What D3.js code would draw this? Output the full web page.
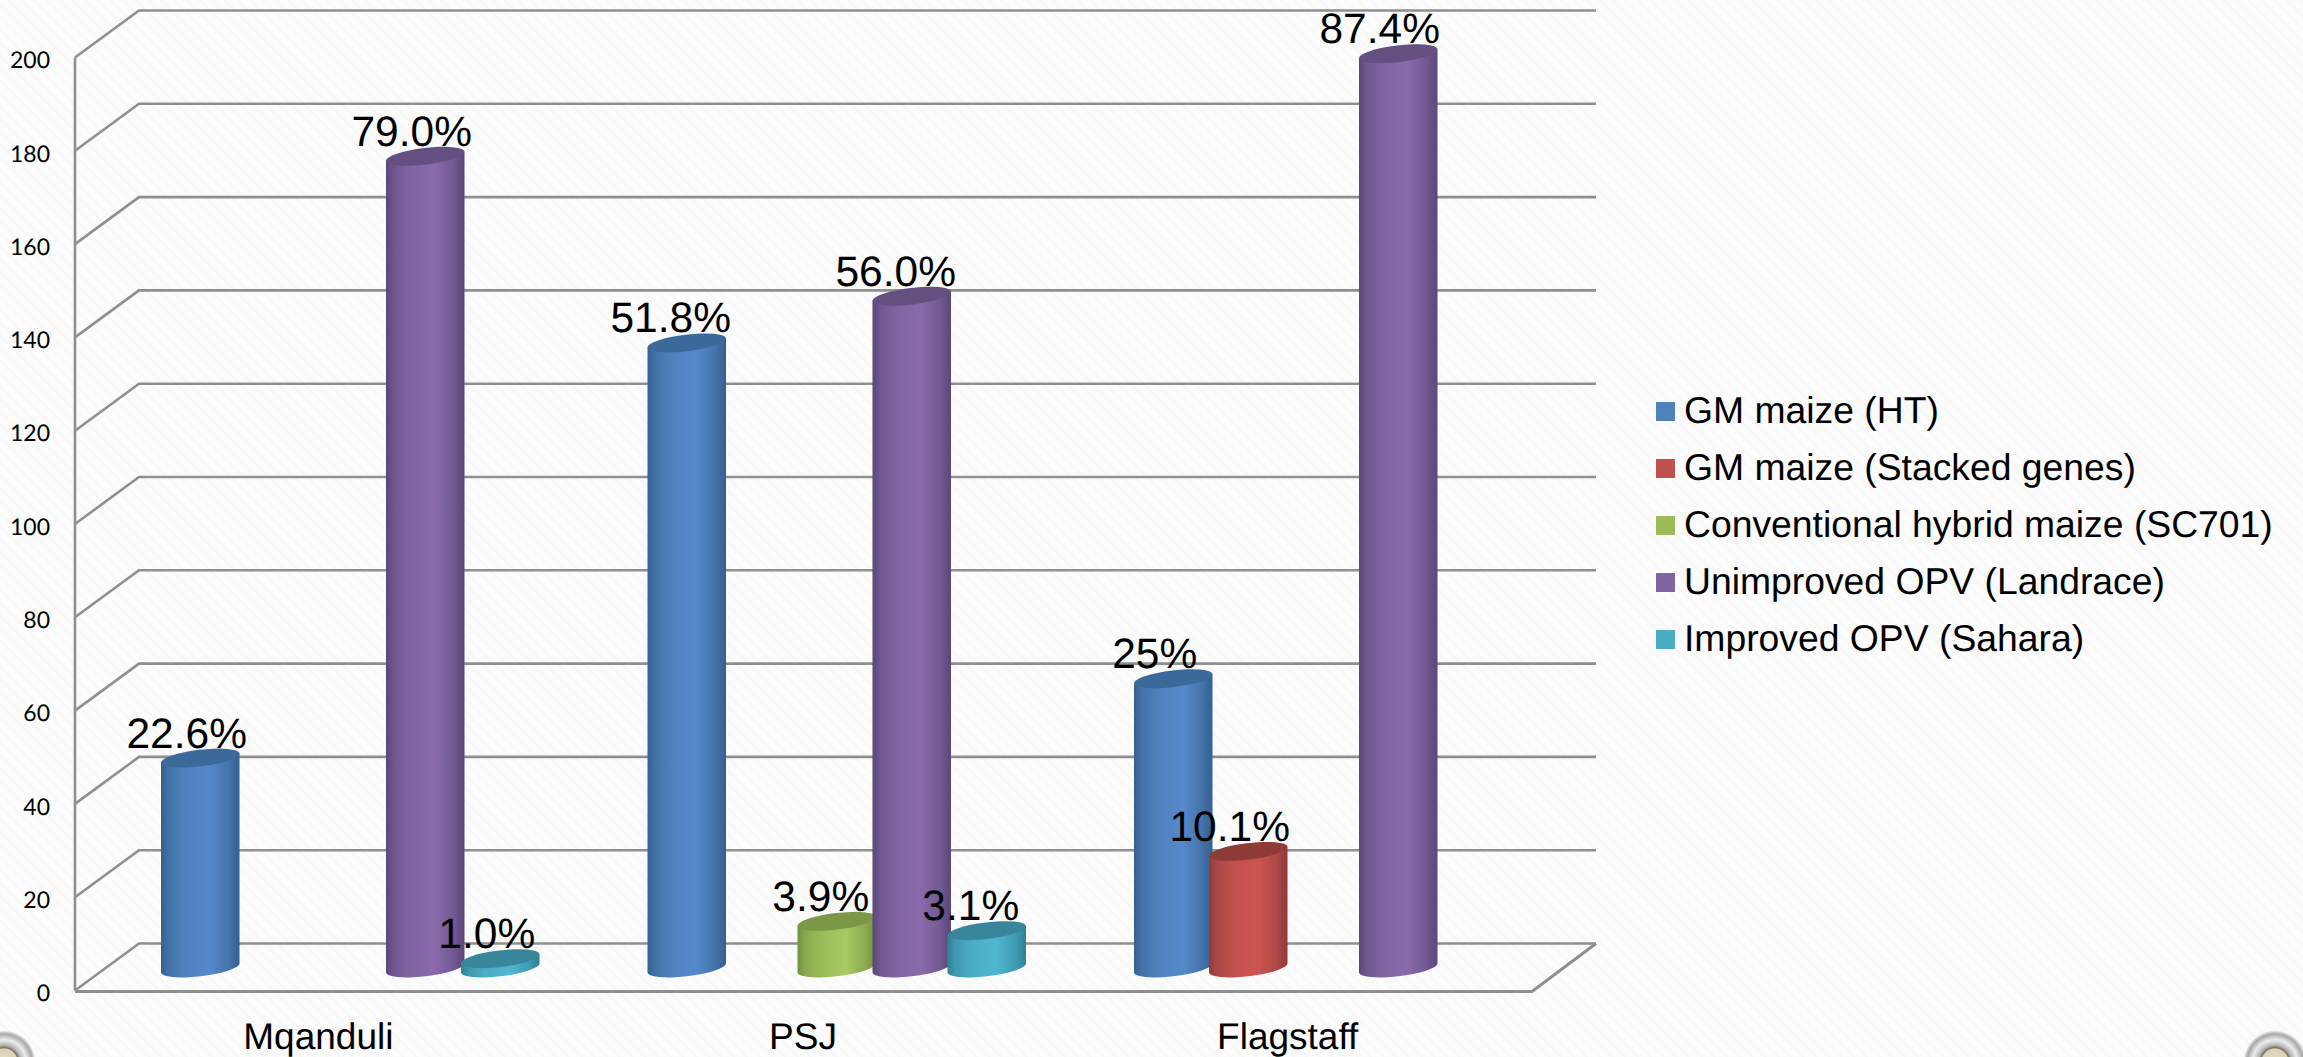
<!DOCTYPE html>
<html>
<head>
<meta charset="utf-8">
<title>Maize varieties by site</title>
<script src="https://cdn.jsdelivr.net/npm/d3@7"></script>
<style>
  html, body { margin: 0; padding: 0; background: #fafafa; overflow: hidden; }
  svg { display: block; text-rendering: geometricPrecision; }
  .lab { font-family: "Liberation Sans", Arial, sans-serif; fill: #000; }
</style>
</head>
<body>
<svg id="chart" width="2303" height="1057"></svg>
<script>
// Sites along the horizontal axis
const categories = ["Mqanduli", "PSJ", "Flagstaff"];
const seriesNames = [
  "GM maize (HT)",
  "GM maize (Stacked genes)",
  "Conventional hybrid maize (SC701)",
  "Unimproved OPV (Landrace)",
  "Improved OPV (Sahara)"
];
// Counts per site, one list per series; null means no bar at that site
const gmHt        = [45, 134, 62];
const gmStacked   = [null, null, 25];
const hybrid      = [null, 10, null];
const landrace    = [174, 144, 196];
const sahara      = [2, 8, null];
// Share labels printed above each bar
const gmHtLabels      = ["22.6%", "51.8%", "25%"];
const gmStackedLabels = [null, null, "10.1%"];
const hybridLabels    = [null, "3.9%", null];
const landraceLabels  = ["79.0%", "56.0%", "87.4%"];
const saharaLabels    = ["1.0%", "3.1%", null];
const yTicks = [0, 20, 40, 60, 80, 100, 120, 140, 160, 180, 200];

const seriesValues = [gmHt, gmStacked, hybrid, landrace, sahara];
const seriesLabels = [gmHtLabels, gmStackedLabels, hybridLabels, landraceLabels, saharaLabels];

// Fill colours for each series: legend swatch, side shading and cap
const swatch = ["#4f81bd", "#c0504d", "#9bbb59", "#8064a2", "#4bacc6"];
const bright = ["#5589cc", "#cd5551", "#a9c962", "#8a6aab", "#4fb6d0"];
const edge   = ["#355f90", "#8f3b38", "#75913f", "#5b4679", "#2f8195"];
const capCol = ["#3b6a9a", "#8e3b38", "#7c9745", "#634f80", "#37869a"];

const svg = d3.select("#chart");
const defs = svg.append("defs");

// Faint woven paper texture behind everything
const paper = defs.append("pattern").attr("id", "paper")
  .attr("width", 9).attr("height", 9)
  .attr("patternUnits", "userSpaceOnUse")
  .attr("patternTransform", "rotate(45)");
paper.append("rect").attr("width", 9).attr("height", 9).attr("fill", "#fbfbfb");
paper.append("line").attr("x1", 0).attr("y1", 3).attr("x2", 9).attr("y2", 3)
  .attr("stroke", "#f7f7f7").attr("stroke-width", 2);
svg.append("rect").attr("width", 2303).attr("height", 1057).attr("fill", "url(#paper)");

// Geometry of the 3D box: front plane plus a constant depth shift to the back wall
const frontLeft = 75, frontRight = 1532;
const depthX = 64, depthY = -47;
const y = d3.scaleLinear().domain([0, 200]).range([990.5, 57.5]);
const band = d3.scaleBand().domain(categories).range([frontLeft, 1534.5]);
const labelBand = d3.scaleBand().domain(categories).range([76, 1530]);
const seriesStep = d3.scalePoint().domain(d3.range(5)).range([-150, 150]);

// Bars sit half way into the depth of the box and rest slightly above the floor edge
const barShiftX = depthX / 2;
const barBase = 968;
const barY = v => y(v) - y(0) + barBase;

// Walls and gridlines
const lineCol = "#8f8f8f";
const grid = svg.append("g").attr("fill", "none").attr("stroke", lineCol);
grid.selectAll(".back").data(yTicks).join("polyline")
  .attr("stroke-width", 2.6)
  .attr("points", d => [
    [frontLeft, y(d)],
    [frontLeft + depthX, y(d) + depthY],
    [frontRight + depthX, y(d) + depthY]
  ].join(" "));
grid.append("line")
  .attr("stroke-width", 2.6)
  .attr("x1", frontLeft).attr("x2", frontLeft)
  .attr("y1", y(200)).attr("y2", y(0));
grid.append("polyline")
  .attr("stroke-width", 3)
  .attr("points", [
    [frontLeft, y(0) + 1],
    [frontRight, y(0) + 1],
    [frontRight + depthX, y(0) + depthY]
  ].join(" "));

// Ellipse tilt shared by all cylinder ends
const rx = 39.5, ry = 8.3, tilt = -6.86, halfW = 39.25, lift = 4.5;

seriesNames.forEach((_, i) => {
  const g = defs.append("linearGradient").attr("id", "side" + i);
  [[0, edge[i]], [0.1, d3.interpolateRgb(edge[i], swatch[i])(0.55)], [0.3, swatch[i]],
   [0.62, bright[i]], [0.85, d3.interpolateRgb(edge[i], swatch[i])(0.65)], [1, edge[i]]]
    .forEach(s => g.append("stop").attr("offset", s[0]).attr("stop-color", s[1]));
});

// Flat list of bars drawn from the series arrays, left to right
const bars = [];
categories.forEach((cat, c) => {
  seriesNames.forEach((_, s) => {
    const v = seriesValues[s][c];
    if (v === null) return;
    const cx = band(cat) + band.bandwidth() / 2 + seriesStep(s) + barShiftX;
    bars.push({ s, c, v, cx, text: seriesLabels[s][c] });
  });
});

const cyl = svg.append("g").selectAll("g").data(bars).join("g");
cyl.append("path")
  .attr("fill", d => `url(#side${d.s})`)
  .attr("d", d => {
    const top = barY(d.v);
    const p = d3.path();
    p.moveTo(d.cx - halfW, top + lift);
    p.lineTo(d.cx - halfW, barBase + lift);
    return p.toString() +
      `A${rx} ${ry} ${tilt} 0 0 ${d.cx + halfW} ${barBase - lift}` +
      `L${d.cx + halfW} ${top - lift}Z`;
  });
cyl.append("ellipse")
  .attr("rx", rx).attr("ry", ry)
  .attr("fill", d => capCol[d.s])
  .attr("transform", d => `translate(${d.cx},${barY(d.v)}) rotate(${tilt})`);

// Share labels above the bars
svg.append("g").selectAll("text").data(bars).join("text")
  .attr("class", "lab")
  .attr("font-size", 42.5)
  .attr("text-anchor", "middle")
  .attr("x", d => d.cx - 13.5 - 2.5 * d.c)
  .attr("y", d => barY(d.v) - 10.5)
  .text(d => d.text);

// Value axis
const yAxis = d3.axisLeft(y).tickValues(yTicks).tickSize(0).tickPadding(0);
const yG = svg.append("g").attr("transform", "translate(50,1)").call(yAxis);
yG.select(".domain").remove();
yG.selectAll("text")
  .attr("font-family", "Lato, Carlito, sans-serif")
  .attr("font-size", 23)
  .attr("fill", "#000")
  .attr("dy", "0.40em");

// Category axis
const xAxis = d3.axisBottom(labelBand).tickSize(0).tickPadding(0);
const xG = svg.append("g").attr("transform", "translate(0,1049)").call(xAxis);
xG.select(".domain").remove();
xG.selectAll("text")
  .attr("font-family", "'Liberation Sans', Arial, sans-serif")
  .attr("font-size", 37)
  .attr("fill", "#000")
  .attr("dy", 0);

// Legend
const legendY = d3.scalePoint().domain(seriesNames).range([411.5, 639.5]);
const legend = svg.append("g").selectAll("g").data(seriesNames).join("g")
  .attr("transform", d => `translate(1656,${legendY(d)})`);
legend.append("rect")
  .attr("y", -9.5).attr("width", 19).attr("height", 19)
  .attr("fill", (d, i) => swatch[i]);
legend.append("text")
  .attr("class", "lab")
  .attr("x", 28).attr("y", 11.5)
  .attr("font-size", 37.3)
  .text(d => d);

// Metal eyelets clipped by the lower corners of the page
const eyeGrad = defs.append("radialGradient").attr("id", "eye");
[[0, "#e6dfc4"], [0.42, "#d9d2b4"], [0.46, "#77725f"], [0.55, "#b9b9b9"], [0.72, "#ececec"],
 [0.9, "#a8a8a8"], [1, "#e4e4e4"]]
  .forEach(s => eyeGrad.append("stop").attr("offset", s[0]).attr("stop-color", s[1]));
svg.append("g").selectAll("circle").data([4, 2275]).join("circle")
  .attr("cx", d => d).attr("cy", 1062).attr("r", 31)
  .attr("fill", "url(#eye)");
</script>
</body>
</html>
